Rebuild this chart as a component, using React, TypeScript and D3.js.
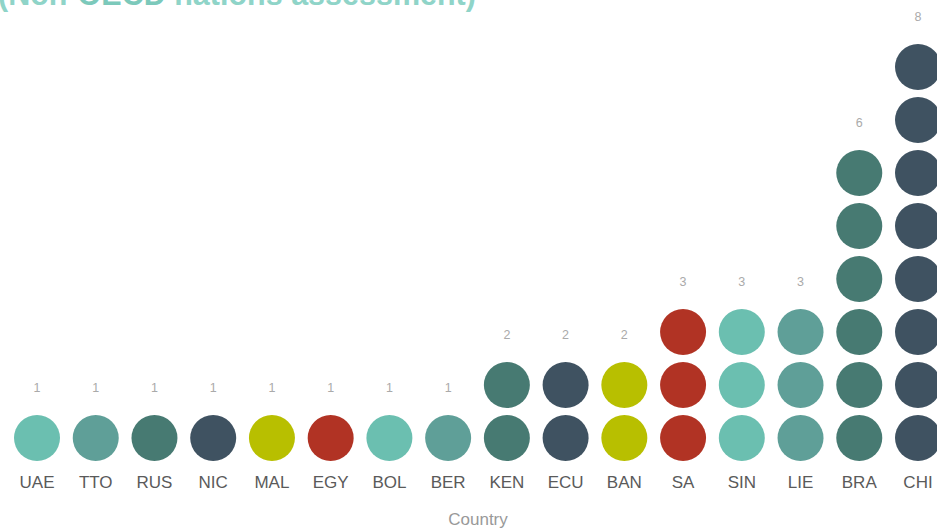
import React from 'react';
import * as d3 from 'd3';

const countries = ['UAE', 'TTO', 'RUS', 'NIC', 'MAL', 'EGY', 'BOL', 'BER', 'KEN', 'ECU', 'BAN', 'SA', 'SIN', 'LIE', 'BRA', 'CHI'];
const counts = [1, 1, 1, 1, 1, 1, 1, 1, 2, 2, 2, 3, 3, 3, 6, 8];
const palette = ['#6bbfb0', '#5f9f98', '#477a72', '#3f5261', '#b8bf00', '#b13324'];

const W = 937;
const H = 530;

const App = () => {
  const x = d3.scalePoint<string>().domain(countries).range([37, 918]);
  const y = d3.scaleLinear().domain([0, 8]).range([438, 14]);
  const r = 23;

  return (
    <svg width={W} height={H} style={{ position: 'absolute', left: 0, top: 0 }} fontFamily="'Liberation Sans', Arial, sans-serif">
      <rect width={W} height={H} fill="#fff" />
      {/* title, cut off at the top in the original */}
      <text x={-2} y={5} fontSize={30.5} fill="#8fd4c8" fontWeight="bold">
        (Non-<tspan fill="#7cc9bb" fontWeight="900">OECD</tspan> nations assessment)
      </text>

      {countries.map((c, i) => (
        <g key={c}>
          {d3.range(counts[i]).map(k => (
            <circle key={k} cx={x(c)} cy={y(k)} r={r} fill={palette[i % palette.length]} />
          ))}
          <text x={x(c)} y={y(counts[i]) + 4} textAnchor="middle" dominantBaseline="middle" fontSize={12.5} fill="#aaa">
            {counts[i]}
          </text>
          <text x={x(c)} y={484} textAnchor="middle" dominantBaseline="middle" fontSize={17} fill="#5a5a5a">
            {c}
          </text>
        </g>
      ))}

      <text x={478} y={521} textAnchor="middle" dominantBaseline="middle" fontSize={17} fill="#999">
        Country
      </text>
    </svg>
  );
};

export default App;
